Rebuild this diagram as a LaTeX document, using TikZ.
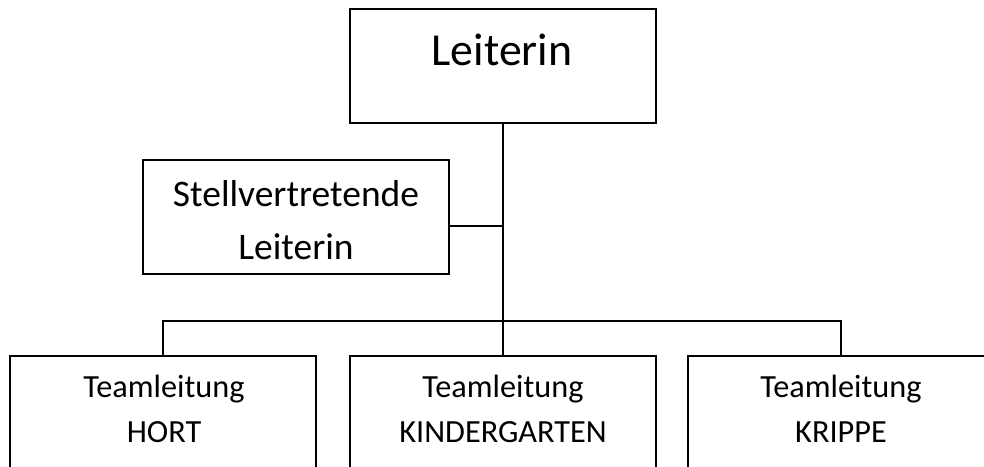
\documentclass[tikz,border=0pt]{standalone}
\usepackage{fontspec}
\setmainfont{Carlito}
\begin{document}
\begin{tikzpicture}[x=1pt,y=-1pt,
  box/.style={draw=black,line width=2pt,fill=white,rectangle,inner sep=0pt},
  lbl/.style={inner sep=0pt,anchor=base,align=center},
  conn/.style={draw=black,line width=2pt}]
\useasboundingbox (0,0) rectangle (984,466);
\clip (0,0) rectangle (984,466);
% boxes
\node[box,minimum width=306pt,minimum height=114pt] (lead) at (503,66) {};
\node[box,minimum width=306pt,minimum height=114pt] (dep) at (296,217) {};
\node[box,minimum width=306pt,minimum height=140pt] (hort) at (163,426) {};
\node[box,minimum width=306pt,minimum height=140pt] (kg) at (503,426) {};
\node[box,minimum width=306pt,minimum height=140pt] (krip) at (841,426) {};
% labels
\node[lbl,font=\fontsize{45.8}{53}\selectfont] (tlead) at (502,65) {Leiterin};
\node[lbl,font=\fontsize{37.5}{53}\selectfont] (tdep1) at (296,206) {Stellvertretende};
\node[lbl,font=\fontsize{37.5}{53}\selectfont] (tdep2) at (296,259) {Leiterin};
\node[lbl,font=\fontsize{32.3}{45}\selectfont] (thort1) at (164,397) {Teamleitung};
\node[lbl,font=\fontsize{32.3}{45}\selectfont] (thort2) at (164,442) {HORT};
\node[lbl,font=\fontsize{32.3}{45}\selectfont] (tkg1) at (503,397) {Teamleitung};
\node[lbl,font=\fontsize{32.3}{45}\selectfont] (tkg2) at (503,442) {KINDERGARTEN};
\node[lbl,font=\fontsize{32.3}{45}\selectfont] (tkr1) at (841,397) {Teamleitung};
\node[lbl,font=\fontsize{32.3}{45}\selectfont] (tkr2) at (841,442) {KRIPPE};
% connectors
\coordinate (bus) at (503,321);
\coordinate (depjoin) at (449,226);
\draw[conn] (lead.south) -- (kg.north);
\draw[conn] (depjoin) -- (depjoin -| lead.south);
\draw[conn] (hort.north) |- (bus) -| (krip.north);
\end{tikzpicture}
\end{document}
